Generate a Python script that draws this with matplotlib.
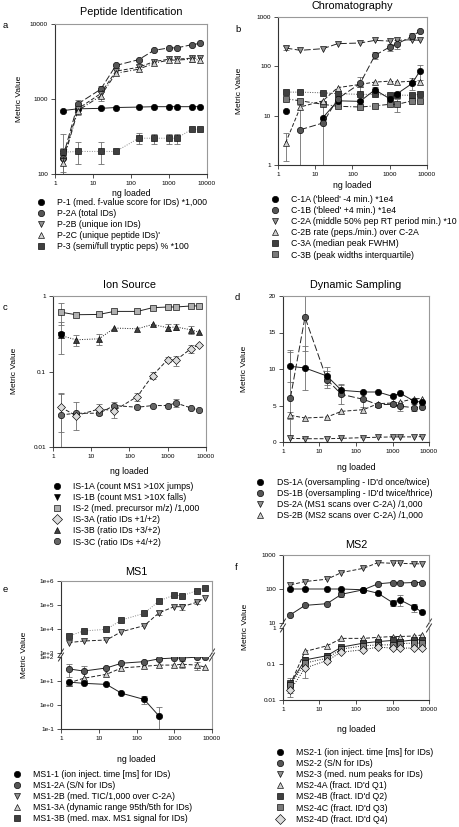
import numpy as np
import matplotlib
matplotlib.use("Agg")
import matplotlib.pyplot as plt
from matplotlib.lines import Line2D
from matplotlib.ticker import NullLocator

plt.rcParams['font.family'] = ['Liberation Sans', 'DejaVu Sans']

nan = np.nan
ng = [1.6, 4, 16, 40, 160, 400, 1000, 1600, 4000, 6400]
x_ticks = [1, 10, 100, 1000, 10000]
x_labels = ['1', '10', '100', '1000', '10000']

# a - Peptide Identification
p1 = [700, 740, 750, 770, 780, 790, 790, 790, 790, 790]
p2a = [165, 860, 1350, 2800, 3350, 4450, 4800, 4800, 5300, 5500]
p2b = [150, 740, 1180, 2350, 2650, 3150, 3400, 3400, 3500, 3500]
p2c = [140, 700, 1100, 2200, 2500, 3000, 3300, 3300, 3400, 3300]
p3 = [195, 200, 200, 200, 300, 300, 300, 300, 395, 395]
p2a_err = [60, 100, 120, 0, 0, 0, 0, 0, 0, 0]
p2b_err = [50, 80, 150, 0, 150, 0, 0, 0, 0, 0]
p2c_err = [50, 80, 150, 0, 0, 0, 0, 0, 300, 0]
p3_err = [150, 65, 65, 0, 50, 45, 45, 45, 0, 0]

# b - Chromatography
c1a = [12.2, nan, 9.1, 20, 19.5, 33.5, 22, 28, 45, 80]
c1b = [nan, 5.2, 7.1, 22, 45, 167, 247, 288, 405, 520]
c2a = [235, 211, 228, 288, 297, 336, 325, 336, 347, 336]
c2b = [2.8, 15, 20, 37, 43, 48, 50, 48, 50, 48]
c3a = [30, 30, 29, 28, 27, 27, 26, 26, 26, 27]
c3b = [22, 20, 17, 15.5, 15, 15.8, 17, 17, 20, 20]
c1a_err = [0, 0, 8.9, 0, 0, 5, 3, 0, 12, 27]
c1b_err = [0, 11, 0, 0, 0, 25, 40, 60, 60, 0]
c2a_err = [25, 0, 0, 0, 0, 0, 0, 0, 0, 0]
c2b_err = [1.6, 0, 0, 0, 17, 0, 0, 0, 0, 0]
c3b_err = [0, 0, 0, 0, 0, 0, 0, 5, 0, 0]

# c - Ion Source
is1a = [0.31, nan, nan, nan, nan, nan, nan, nan, nan, nan]
is1b = [0.30, nan, nan, nan, nan, nan, nan, nan, nan, nan]
is2 = [0.61, 0.565, 0.57, 0.625, 0.625, 0.70, 0.715, 0.715, 0.737, 0.74]
is3a = [0.0336, 0.026, 0.0319, 0.0304, 0.0466, 0.0885, 0.144, 0.14, 0.2, 0.226]
is3b = [0.30, 0.263, 0.271, 0.376, 0.368, 0.42, 0.38, 0.39, 0.357, 0.333]
is3c = [0.0266, 0.028, 0.028, 0.0354, 0.0336, 0.0354, 0.0354, 0.0384, 0.033, 0.031]
is1a_err = [0.14, 0, 0, 0, 0, 0, 0, 0, 0, 0]
is2_err = [0.2, 0, 0, 0, 0, 0, 0, 0, 0, 0]
is3a_err = [0.018, 0, 0.005, 0.006, 0.006, 0.01, 0.012, 0.02, 0.025, 0]
is3b_err = [0, 0.045, 0.045, 0, 0, 0, 0.04, 0.04, 0.04, 0]
is3c_err = [0.024, 0.011, 0, 0.004, 0, 0, 0, 0.005, 0, 0]

# d - Dynamic Sampling
ds1a = [10.37, 10.14, 9.04, 7.08, 6.85, 6.85, 6.26, 6.7, 5.57, 5.48]
ds1b = [6.07, 17.1, 8.54, 6.53, 5.84, 5.11, 5.16, 4.9, 4.7, 4.8]
ds2a = [0.5, 0.45, 0.45, 0.5, 0.6, 0.65, 0.7, 0.7, 0.7, 0.75]
ds2b = [3.65, 3.29, 3.42, 4.2, 4.43, 5.25, 5.34, 5.48, 5.94, 5.94]
ds1a_err = [2.2, 3.0, 1.2, 0.8, 0, 0, 0, 0, 0, 0]
ds1b_err = [6.3, 4.7, 1.2, 1.3, 1.1, 0, 0, 0.6, 0.5, 0]
ds2b_err = [0.5, 0, 0, 0, 0, 0, 0, 0, 0, 0]

# e - MS1 (broken axis)
ms1_1 = [9, 8, 7.2, 3.1, 1.7, 0.34, nan, nan, nan, nan]
ms1_2a = [32, 26, 35, 55, 64, 84, 91, 91, 98, 98]
ms1_2b = [2700, 3160, 3480, 7750, 13800, 48000, 85000, 85000, 130000, 190000]
ms1_3a = [8.3, 13, 19, 35, 41, 46, 46, 50, 46, 38]
ms1_3b = [5100, 8300, 9700, 23700, 45000, 150000, 260000, 240000, 400000, 525000]
ms1_1_err = [0, 0, 0, 0, 0.6, 0.5, 0, 0, 0, 0]
ms1_2a_err = [18, 15, 0, 0, 0, 0, 0, 0, 0, 0]
ms1_2b_err = [0, 0, 0, 0, 0, 8000, 0, 25000, 20000, 0]
ms1_3a_err = [0, 0, 0, 0, 0, 0, 0, 15, 18, 0]

# f - MS2 (broken axis)
ms2_1 = [100, 100, 100, 100, 95, 75, 40, 48, 29, 21]
ms2_2 = [17.5, 33, 37, 70, 95, 142, 155, 150, 155, 155]
ms2_3 = [132, 166, 194, 304, 407, 597, 570, 570, 550, 550]
ms2_4a = [0.028, 0.223, 0.32, 0.515, 0.515, 0.55, 0.58, 0.58, 0.60, 0.64]
ms2_4b = [0.029, 0.13, 0.17, 0.295, 0.38, 0.42, 0.45, 0.42, 0.47, 0.47]
ms2_4c = [0.026, 0.106, 0.145, 0.26, 0.32, 0.34, 0.34, 0.37, 0.38, 0.38]
ms2_4d = [0.019, 0.077, 0.125, 0.214, 0.249, 0.295, 0.277, 0.277, 0.277, 0.277]
ms2_1_err = [0, 0, 0, 0, 0, 8, 8, 17, 8, 0]
ms2_2_err = [0, 0, 0, 10, 0, 0, 0, 0, 0, 0]
ms2_4b_err = [0.013, 0.03, 0.03, 0, 0, 0, 0, 0, 0, 0]
ms2_4d_err = [0.007, 0.035, 0.02, 0, 0, 0, 0, 0, 0, 0]

# colours
BLK = '#000000'
DRK = '#555555'
MID = '#8f8f8f'
LGT = '#d0d0d0'
SQD = '#404040'
SQM = '#7a7a7a'
SQL = '#b0b0b0'
DIA = '#dcdcdc'

SOLID = '-'
LDASH = (0, (7, 2.5))
DASH = (0, (4, 2))
DDOT = (0, (5, 2, 1, 2))
DOT = (0, (1, 1.5))

W, H = 460, 827
fig = plt.figure(figsize=(W / 100, H / 100), dpi=100)


def add_ax(x0, y0, x1, y1):
    return fig.add_axes([x0 / W, 1 - y1 / H, (x1 - x0) / W, (y1 - y0) / H])


def style(ax, bottom=True, top=True):
    ax.set_xscale('log')
    ax.set_xlim(1, 10000)
    for s in ['left', 'bottom']:
        ax.spines[s].set_color('#333333')
        ax.spines[s].set_linewidth(0.8)
    for s in ['top', 'right']:
        ax.spines[s].set_color('#999999')
        ax.spines[s].set_linewidth(0.8)
    ax.tick_params(axis='both', which='major', length=3, width=0.6,
                   labelsize=4.6, pad=2, color='#333333')
    ax.xaxis.set_minor_locator(NullLocator())
    ax.yaxis.set_minor_locator(NullLocator())
    ax.spines['top'].set_visible(top)
    ax.spines['bottom'].set_visible(bottom)
    if bottom:
        ax.set_xticks(x_ticks)
        ax.set_xticklabels(x_labels)
    else:
        ax.set_xticks([])


def draw(ax, y, err, mk, fc, ls, lc='#222222', ms=4.6, z=3):
    y = np.array(y, float)
    if err is not None:
        e = np.array(err, float)
        m = e > 0
        xs = np.array(ng)[m]
        ax.errorbar(xs, y[m], yerr=e[m], fmt='none', ecolor='#6f6f6f',
                    elinewidth=0.6, capsize=2.3, capthick=0.6, zorder=1)
    ax.plot(ng, y, linestyle=ls, color=lc, lw=0.7, marker=mk, mfc=fc,
            mec='#000000', mew=0.45, ms=ms, zorder=z)


def legend(ax, items, mx, tx, y0, fs=6.3):
    handles = [Line2D([], [], ls='none', marker=mk, mfc=fc, mec='#000000',
                      mew=0.45, ms=4.6) for mk, fc in items[1]]
    em = fs * 100 / 72
    hl = 1.0
    anchor_x = mx - hl * em / 2
    pad = (tx - anchor_x - hl * em) / em
    ax.legend(handles, items[0], loc='upper left',
              bbox_to_anchor=(anchor_x / W, 1 - (y0 - 5.4) / H),
              bbox_transform=fig.transFigure, frameon=False, fontsize=fs,
              borderpad=0, borderaxespad=0, handlelength=hl,
              handletextpad=pad, labelspacing=0.25)


def texts(ax_x0, ax_x1, title, ty, letter, lx, ly, ylab_x, ylab_y, xlab_y):
    cx = (ax_x0 + ax_x1) / 2
    fig.text(cx / W, 1 - ty / H, title, ha='center', va='center', fontsize=7.8)
    fig.text(lx / W, 1 - ly / H, letter, ha='left', va='center', fontsize=6.8)
    fig.text(ylab_x / W, 1 - ylab_y / H, 'Metric Value', rotation=90,
             ha='center', va='center', fontsize=6)
    fig.text(cx / W, 1 - xlab_y / H, 'ng loaded', ha='center', va='center',
             fontsize=6.3)


def break_marks(ax_up, ax_lo):
    for ax, yv in [(ax_up, 0.0), (ax_lo, 1.0)]:
        h = ax.get_position().height * H
        dy = 4.0 / h
        dx = 2.5 / (ax.get_position().width * W)
        for xv in (0.0, 1.0):
            ax.plot([xv - dx, xv + dx], [yv - dy, yv + dy], color='#333333',
                    lw=0.7, transform=ax.transAxes, clip_on=False)


def log_ticks(ax, ticks, labels, lo, hi):
    ax.set_yscale('log')
    ax.set_ylim(lo, hi)
    ax.set_yticks(ticks)
    ax.set_yticklabels(labels)
    ax.yaxis.set_minor_locator(NullLocator())


# ---- a
axa = add_ax(55, 24, 207, 174)
style(axa)
log_ticks(axa, [100, 1000, 10000], ['100', '1000', '10000'], 100, 10000)
draw(axa, p1, None, 'o', BLK, SOLID)
draw(axa, p2a, p2a_err, 'o', DRK, LDASH)
draw(axa, p2b, p2b_err, 'v', MID, DASH)
draw(axa, p2c, p2c_err, '^', LGT, DDOT)
draw(axa, p3, p3_err, 's', SQD, DOT, lc='#888888')
texts(55, 207, 'Peptide Identification', 12, 'a', 3, 25, 20, 99, 193)
legend(axa, (['P-1 (med. f-value score for IDs) *1,000', 'P-2A (total IDs)',
              'P-2B (unique ion IDs)', "P-2C (unique peptide IDs)'",
              'P-3 (semi/full tryptic peps) % *100'],
             [('o', BLK), ('o', DRK), ('v', MID), ('^', LGT), ('s', SQD)]),
       41, 57, 203)

# ---- b
axb = add_ax(278, 17, 427, 165)
style(axb)
log_ticks(axb, [1, 10, 100, 1000], ['1', '10', '100', '1000'], 1, 1000)
draw(axb, c3a, None, 's', SQD, DOT, lc='#555555')
draw(axb, c3b, c3b_err, 's', SQM, DDOT)
draw(axb, c2a, c2a_err, 'v', MID, LDASH)
draw(axb, c2b, c2b_err, '^', LGT, DASH)
draw(axb, c1a, c1a_err, 'o', BLK, SOLID)
draw(axb, c1b, c1b_err, 'o', DRK, LDASH)
texts(278, 427, 'Chromatography', 6, 'b', 235, 30, 240, 91, 186)
legend(axb, (["C-1A ('bleed' -4 min.) *1e4", "C-1B ('bleed' +4 min.) *1e4",
              'C-2A (middle 50% pep RT period min.) *10',
              'C-2B rate (peps./min.) over C-2A', 'C-3A (median peak FWHM)',
              'C-3B (peak widths interquartile)'],
             [('o', BLK), ('o', DRK), ('v', MID), ('^', LGT), ('s', SQD), ('s', SQM)]),
       275, 291, 200)

# ---- c
axc = add_ax(53, 296, 206, 447)
style(axc)
log_ticks(axc, [0.01, 0.1, 1], ['0.01', '0.1', '1'], 0.01, 1)
draw(axc, is2, is2_err, 's', SQL, SOLID)
draw(axc, is3b, is3b_err, '^', SQD, DOT)
draw(axc, is3c, is3c_err, 'o', '#666666', DASH)
draw(axc, is3a, is3a_err, 'D', DIA, DASH, ms=4.0)
draw(axc, is1b, None, 'v', BLK, SOLID, z=2)
draw(axc, is1a, is1a_err, 'o', BLK, SOLID)
texts(53, 206, 'Ion Source', 285, 'c', 3, 308, 15, 371, 472)
legend(axc, (['IS-1A (count MS1 >10X jumps)', 'IS-1B (count MS1 >10X falls)',
              'IS-2 (med. precursor m/z) /1,000', 'IS-3A (ratio IDs +1/+2)',
              'IS-3B (ratio IDs +3/+2)', 'IS-3C (ratio IDs +4/+2)'],
             [('o', BLK), ('v', BLK), ('s', SQL), ('D', DIA), ('^', SQD), ('o', '#666666')]),
       57, 73, 487)

# ---- d
axd = add_ax(283, 296, 429, 442)
style(axd)
axd.set_ylim(0, 20)
axd.set_yticks([0, 5, 10, 15, 20])
axd.set_yticklabels(['0', '5', '10', '15', '20'])
draw(axd, ds2a, None, 'v', MID, DASH)
draw(axd, ds2b, ds2b_err, '^', LGT, DASH)
draw(axd, ds1b, ds1b_err, 'o', DRK, LDASH)
draw(axd, ds1a, ds1a_err, 'o', BLK, SOLID)
texts(283, 429, 'Dynamic Sampling', 285, 'd', 235, 298, 245, 369, 467)
legend(axd, (["DS-1A (oversampling - ID'd once/twice)",
              "DS-1B (oversampling - ID'd twice/thrice)",
              'DS-2A (MS1 scans over C-2A) /1,000',
              'DS-2B (MS2 scans over C-2A) /1,000'],
             [('o', BLK), ('o', DRK), ('v', MID), ('^', LGT)]),
       260, 277, 483)

# ---- e
axe1 = add_ax(61, 581, 212, 653)
axe2 = add_ax(61, 657, 212, 729)
style(axe1, bottom=False)
style(axe2, top=False)
log_ticks(axe1, [1e3, 1e4, 1e5, 1e6], ['1e+3', '1e+4', '1e+5', '1e+6'], 1e3, 1e6)
log_ticks(axe2, [1e-1, 1, 10, 100], ['1e-1', '1e+0', '1e+1', '1e+2'], 1e-1, 1e2)
draw(axe1, ms1_3b, None, 's', SQD, DOT, lc='#888888')
draw(axe1, ms1_2b, ms1_2b_err, 'v', MID, DASH)
draw(axe2, ms1_3a, ms1_3a_err, '^', LGT, DASH)
draw(axe2, ms1_2a, ms1_2a_err, 'o', DRK, SOLID)
draw(axe2, ms1_1, ms1_1_err, 'o', BLK, SOLID)
break_marks(axe1, axe2)
texts(61, 212, 'MS1', 572, 'e', 3, 590, 25, 655, 759)
legend(axe2, (['MS1-1 (ion inject. time [ms] for IDs)', 'MS1-2A (S/N for IDs)',
               'MS1-2B (med. TIC/1,000 over C-2A)',
               'MS1-3A (dynamic range 95th/5th for IDs)',
               'MS1-3B (med. max. MS1 signal for IDs)'],
              [('o', BLK), ('o', DRK), ('v', MID), ('^', LGT), ('s', SQD)]),
       17, 33, 775)

# ---- f
axf1 = add_ax(283, 555, 429, 623)
axf2 = add_ax(283, 628, 429, 700)
style(axf1, bottom=False)
style(axf2, top=False)
log_ticks(axf1, [10, 100, 1000], ['10', '100', '1000'], 10, 1000)
log_ticks(axf2, [0.01, 0.1, 1], ['0.01', '0.1', '1'], 0.01, 1)
draw(axf1, ms2_3, None, 'v', MID, DASH)
draw(axf1, ms2_2, ms2_2_err, 'o', DRK, SOLID)
draw(axf1, ms2_1, ms2_1_err, 'o', BLK, SOLID)
draw(axf2, ms2_4a, None, '^', LGT, DASH)
draw(axf2, ms2_4b, ms2_4b_err, 's', SQD, SOLID)
draw(axf2, ms2_4c, None, 's', SQM, DOT)
draw(axf2, ms2_4d, ms2_4d_err, 'D', DIA, DOT, ms=4.0)
break_marks(axf1, axf2)
texts(283, 429, 'MS2', 545, 'f', 235, 567, 246, 627, 729)
legend(axf2, (['MS2-1 (ion inject. time [ms] for IDs)', 'MS2-2 (S/N for IDs)',
               'MS2-3 (med. num peaks for IDs)', "MS2-4A (fract. ID'd Q1)",
               "MS2-4B (fract. ID'd Q2)", "MS2-4C (fract. ID'd Q3)",
               "MS2-4D (fract. ID'd Q4)"],
              [('o', BLK), ('o', DRK), ('v', MID), ('^', LGT), ('s', SQD), ('s', SQM), ('D', DIA)]),
       280, 296, 753)

fig.savefig('out.png', dpi=100)
